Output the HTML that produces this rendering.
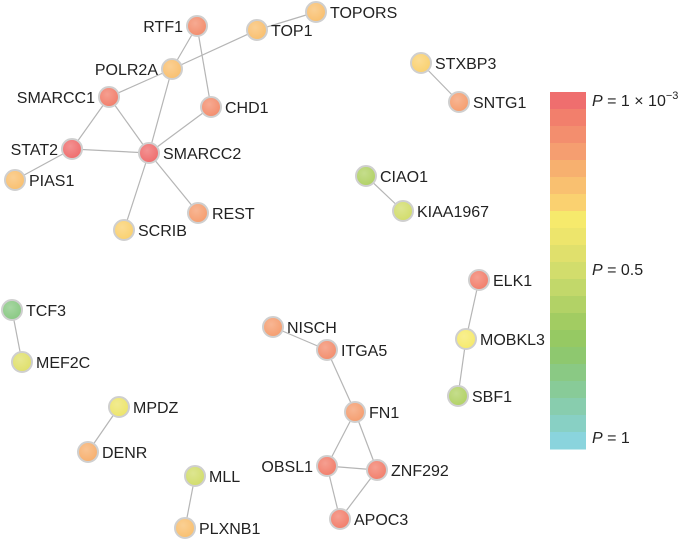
<!DOCTYPE html>
<html><head><meta charset="utf-8"><style>
body{margin:0;background:#fff;}
svg{display:block;font-family:"Liberation Sans",sans-serif;}
</style></head><body>
<svg id="chart" width="685" height="541" viewBox="0 0 685 541">
<defs>
<radialGradient id="shade" cx="40%" cy="35%" r="70%"><stop offset="0" stop-color="#fff" stop-opacity="0.25"/><stop offset="1" stop-color="#fff" stop-opacity="0"/></radialGradient>
</defs>
<g id="edges"></g>
<g id="nodes"></g>
<g id="legend"></g>
</svg>
<script>
const nodeNames=["RTF1","TOPORS","TOP1","POLR2A","SMARCC1","CHD1","STAT2","SMARCC2","PIAS1","REST","SCRIB","STXBP3","SNTG1","CIAO1","KIAA1967","TCF3","MEF2C","MPDZ","DENR","MLL","PLXNB1","NISCH","ITGA5","FN1","OBSL1","ZNF292","APOC3","ELK1","MOBKL3","SBF1"];
const nodeX=[197,316,257,172,109,211,72,149,15,198,124,421,459,366,403,12,22,119,88,195,185,273,327,355,327,377,340,479,466,458];
const nodeY=[26,12,30,69,97,107,149,153,180,213,230,63,102,176,211,310,362,407,452,476,528,327,350,412,466,470,519,280,339,396];
// colour level: 0 = P 1e-3 (red) ... 20 = P 1 (blue)
const nodeLevel=[2,5,5,5,1,2,0,0,5,3,6,6,3,12,10,16,9,8,4,10,5,3,2,3,1,1,1,1,7,12];
const labelSide=["L","R","R","L","L","R","L","R","R","R","R","R","R","R","R","R","R","R","R","R","R","R","R","R","L","R","R","R","R","R"];
const edgeFrom=["RTF1","RTF1","TOPORS","TOP1","POLR2A","POLR2A","SMARCC1","SMARCC1","STAT2","STAT2","SMARCC2","SMARCC2","SMARCC2","STXBP3","CIAO1","TCF3","MPDZ","MLL","NISCH","ITGA5","FN1","FN1","OBSL1","OBSL1","ZNF292","ELK1","MOBKL3"];
const edgeTo=["POLR2A","CHD1","TOP1","POLR2A","SMARCC1","SMARCC2","STAT2","SMARCC2","SMARCC2","PIAS1","CHD1","REST","SCRIB","SNTG1","KIAA1967","MEF2C","DENR","PLXNB1","ITGA5","FN1","OBSL1","ZNF292","ZNF292","APOC3","APOC3","MOBKL3","SBF1"];
const legendLabels=["P = 1 × 10","P = 0.5","P = 1"];
const legendLabelLevels=[0,10,20];

const palette=["#ef6e6e","#f27f6c","#f38e6e","#f59e70","#f7b06f","#f9c070","#fad170","#f6ea6c","#ede56c","#e0e06c","#d2dd6c","#c2d86a","#b2d266","#a2cc62","#96c963","#8ec86f","#8ac984","#88cb98","#88cdae","#88d0c4","#8ad4dd"];
const NS="http://www.w3.org/2000/svg";
function mk(t,a){const e=document.createElementNS(NS,t);for(const k in a)e.setAttribute(k,a[k]);return e;}
const idx={};nodeNames.forEach((n,i)=>idx[n]=i);
const E=document.getElementById('edges');
edgeFrom.forEach((f,i)=>{const a=idx[f],b=idx[edgeTo[i]];
 const l=mk('line',{x1:nodeX[a],y1:nodeY[a],x2:nodeX[b],y2:nodeY[b],stroke:'#b5b5b5','stroke-width':1.2});
 
 
 E.appendChild(l);});
const N=document.getElementById('nodes');
nodeNames.forEach((n,i)=>{
 const g=mk('g',{});
 
 
 g.appendChild(mk('circle',{cx:nodeX[i],cy:nodeY[i],r:10,fill:palette[nodeLevel[i]],stroke:'#cfcfcf','stroke-width':2}));
 g.appendChild(mk('circle',{cx:nodeX[i],cy:nodeY[i],r:9,fill:'url(#shade)'}));
 const L=labelSide[i]==='L';
 const t=mk('text',{x:L?nodeX[i]-14:nodeX[i]+14,y:nodeY[i]+6,'font-size':16,fill:'#222','text-anchor':L?'end':'start'});
 t.textContent=n;
 
 
 g.appendChild(t);N.appendChild(g);});
const G=document.getElementById('legend');
const top0=92,bh=17,bx=550,bw=36;
palette.forEach((c,i)=>{const r=mk('rect',{x:bx,y:top0+i*bh,width:bw,height:bh+0.5,fill:c});
 
 
 G.appendChild(r);});
legendLabels.forEach((s,i)=>{
 const y=top0+legendLabelLevels[i]*bh+(i==2?11:i==0?14:13);
 const t=mk('text',{x:bx+bw+6,y:y,'font-size':16,fill:'#222'});
 const p=s.split(' ');
 t.innerHTML='<tspan font-style="italic">P</tspan> '+p.slice(1).join(' ')+(i==0?'<tspan font-size="11" dy="-7">−3</tspan>':'');
 
 
 G.appendChild(t);});
</script>
</body></html>
